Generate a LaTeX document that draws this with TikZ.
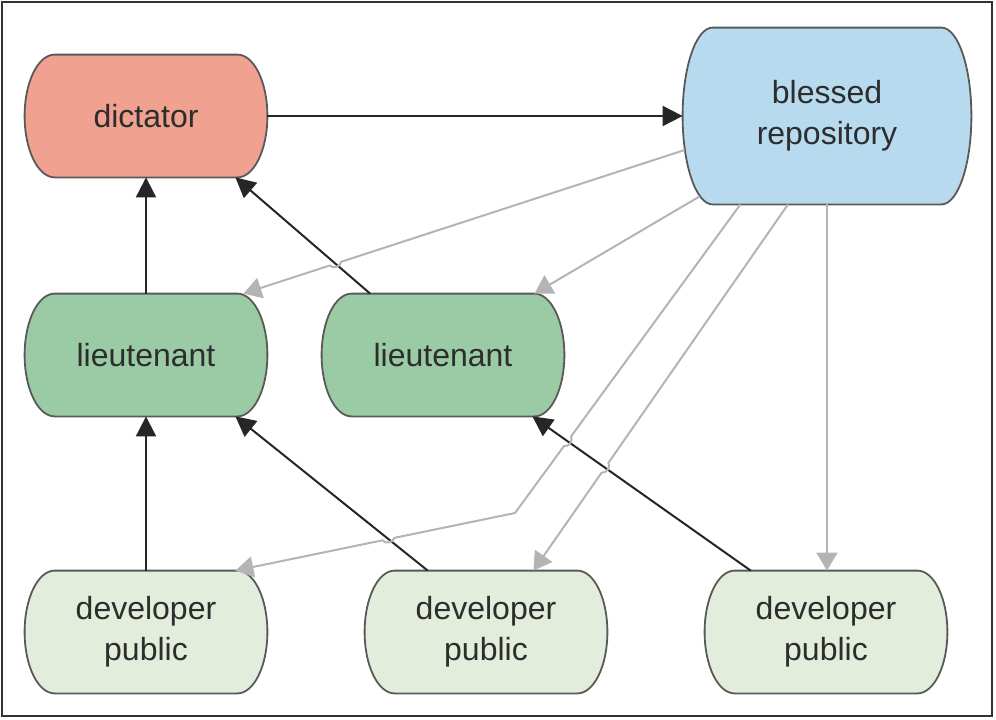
\documentclass[tikz,border=0pt]{standalone}
\usepackage{fontspec}
\setmainfont{Liberation Sans}
\usepackage{tikz}
\usetikzlibrary{arrows.meta,calc,backgrounds}
\definecolor{dictred}{RGB}{240,161,143}
\definecolor{blessblue}{RGB}{184,218,238}
\definecolor{ltgreen}{RGB}{155,203,164}
\definecolor{devgreen}{RGB}{226,237,219}
\definecolor{edgegray}{RGB}{89,89,89}
\definecolor{linegray}{RGB}{180,180,180}
\definecolor{txtgray}{RGB}{45,45,45}
\tikzstyle{pill} = [minimum width=121pt, minimum height=61pt, inner sep=0pt, align=center, text=txtgray, font=\fontsize{16}{20.5}\selectfont]
\tikzstyle{pilledge} = [line width=0.9pt, draw=edgegray]
\tikzstyle{blackarrow} = [line width=1pt, color=black!85, -{Triangle[length=10pt,width=10pt]}]
\tikzstyle{grayarrow} = [line width=1pt, color=linegray, -{Triangle[length=9pt,width=10.5pt]}]

\begin{document}
\begin{tikzpicture}[x=0.5pt, y=-0.5pt]
\useasboundingbox (0,0) rectangle (996,719);
% Frame
\draw[line width=1pt, draw=black!80] (2,2) rectangle (992,716);

% Nodes
\node[pill] (dict) at (146,116) {dictator};
\node[pill, minimum width=144pt, minimum height=88pt] (bless) at (827,116) {blessed\\repository};
\node[pill] (lt1) at (146,355) {lieutenant};
\node[pill] (lt2) at (443,355) {lieutenant};
\node[pill] (dev1) at (146,632) {developer\\public};
\node[pill] (dev2) at (486,632) {developer\\public};
\node[pill] (dev3) at (826,632) {developer\\public};

% Shapes behind the text
\begin{scope}[on background layer]
\foreach \nm/\col in {dict/dictred, bless/blessblue, lt1/ltgreen, lt2/ltgreen, dev1/devgreen, dev2/devgreen, dev3/devgreen}
  \draw[pilledge, fill=\col] let \p1=(\nm.north east), \p2=(\nm.south west), \n1={0.5*(\y1-\y2)} in
    (\x2+15pt,\y1) -- (\x1-15pt,\y1) arc[start angle=90, end angle=-90, x radius=15pt, y radius=\n1]
    -- (\x2+15pt,\y2) arc[start angle=270, end angle=90, x radius=15pt, y radius=\n1] -- cycle;
\end{scope}

% Black arrows
\coordinate (a3s) at ($(lt2.north west)!0.2!(lt2.north east)$);
\coordinate (a3e) at ([xshift=-16pt]dict.south east);
\coordinate (a5s) at ($(dev2.north west)!0.26!(dev2.north east)$);
\coordinate (a5e) at ([xshift=-16pt]lt1.south east);
\coordinate (a6s) at ($(dev3.north west)!0.19!(dev3.north east)$);
\coordinate (a6e) at ([xshift=-16pt]lt2.south east);
\draw[blackarrow] (dict.east) -- (bless.west);
\draw[blackarrow] (lt1.north) -- (dict.south);
\draw[blackarrow] (a3s) -- (a3e);
\draw[blackarrow] (dev1.north) -- (lt1.south);
\draw[blackarrow] (a5s) -- (a5e);
\draw[blackarrow] (a6s) -- (a6e);

% Gray arrows (with hops)
\coordinate (ga) at ([xshift=1pt,yshift=-17pt]bless.west);
\coordinate (gaend) at ([xshift=-12pt]lt1.north east);
\coordinate (xa) at (intersection of ga--gaend and a3s--a3e);
\draw[grayarrow] (ga) -- ($(xa)!3pt!(ga)$) to[bend left=70] ($(xa)!3pt!(gaend)$) -- (gaend);

\coordinate (gb) at ([xshift=8.5pt,yshift=4pt]bless.south west);
\coordinate (gbend) at ([xshift=-15pt]lt2.north east);
\draw[grayarrow] (gb) -- (gbend);

\coordinate (gc) at ($(bless.south west)!0.2!(bless.south east)$);
\coordinate (gcbend) at (515,513);
\coordinate (gcend) at ([xshift=-16pt]dev1.north east);
\coordinate (xc1) at (intersection of gc--gcbend and a6s--a6e);
\coordinate (xc2) at (intersection of gcbend--gcend and a5s--a5e);
\draw[grayarrow] (gc) -- ($(xc1)!3pt!(gc)$) to[bend left=70] ($(xc1)!3pt!(gcbend)$) -- (gcbend)
  -- ($(xc2)!3pt!(gcbend)$) to[bend left=70] ($(xc2)!3pt!(gcend)$) -- (gcend);

\coordinate (gd) at ($(bless.south west)!0.365!(bless.south east)$);
\coordinate (gdend) at ([xshift=-37pt]dev2.north east);
\coordinate (xd) at (intersection of gd--gdend and a6s--a6e);
\draw[grayarrow] (gd) -- ($(xd)!3pt!(gd)$) to[bend left=70] ($(xd)!3pt!(gdend)$) -- (gdend);

\draw[grayarrow] (bless.south) -- (bless.south |- dev3.north);
\end{tikzpicture}
\end{document}
